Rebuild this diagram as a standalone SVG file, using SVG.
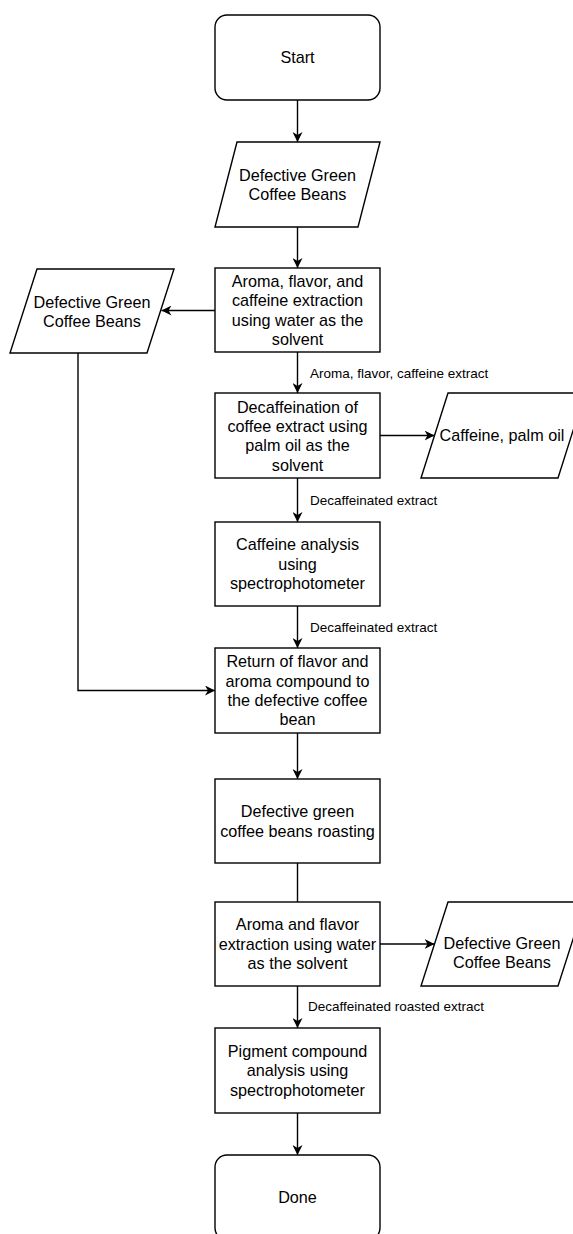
<svg xmlns="http://www.w3.org/2000/svg" width="573" height="1234" viewBox="0 0 573 1234">
<style>
.shape{fill:#ffffff;stroke:#000000;stroke-width:1.4}
.t{font-family:"Liberation Sans",Arial,sans-serif;font-size:16.2px;fill:#000000;text-anchor:middle}
.lbl{font-family:"Liberation Sans",Arial,sans-serif;font-size:13.5px;fill:#000000;text-anchor:start}
.c{fill:none;stroke:#000000;stroke-width:1.4}
.a{marker-end:url(#arr)}
</style>
<defs>
<marker id="arr" markerUnits="userSpaceOnUse" markerWidth="12" markerHeight="10" refX="10" refY="5" orient="auto">
<path d="M0,0 L10,5 L0,10 L3,5 z" fill="#000000"/>
</marker>
</defs>
<rect width="573" height="1234" fill="#ffffff"/>
<g id="connectors">
<line class="c a" x1="297.5" y1="100" x2="297.5" y2="142"/>
<line class="c a" x1="297.5" y1="227" x2="297.5" y2="268"/>
<line class="c a" x1="215" y1="310.5" x2="161.5" y2="310.5"/>
<line class="c a" x1="297.5" y1="352" x2="297.5" y2="393"/>
<line class="c a" x1="380" y1="435.5" x2="434.5" y2="435.5"/>
<line class="c a" x1="297.5" y1="478" x2="297.5" y2="522"/>
<line class="c a" x1="297.5" y1="606" x2="297.5" y2="648"/>
<polyline class="c a" points="78,353 78,690.5 215,690.5"/>
<line class="c a" x1="297.5" y1="733" x2="297.5" y2="779"/>
<line class="c" x1="297.5" y1="863" x2="297.5" y2="902"/>
<line class="c a" x1="380" y1="944" x2="434.5" y2="944"/>
<line class="c a" x1="297.5" y1="986" x2="297.5" y2="1028"/>
<line class="c a" x1="297.5" y1="1113" x2="297.5" y2="1155"/>
<text class="lbl" x="310" y="377.5">Aroma, flavor, caffeine extract</text>
<text class="lbl" x="310" y="505">Decaffeinated extract</text>
<text class="lbl" x="310" y="632">Decaffeinated extract</text>
<text class="lbl" x="308" y="1011">Decaffeinated roasted extract</text>
</g>
<g id="start">
<rect class="shape" x="215" y="15" width="165" height="85" rx="12" ry="12"/>
<text class="t" x="297.5" y="63.3">Start</text>
</g>
<g id="input1">
<polygon class="shape" points="237,142 380,142 358,227 215,227"/>
<text class="t" x="297.5" y="180.5">Defective Green</text>
<text class="t" x="297.5" y="200">Coffee Beans</text>
</g>
<g id="step1">
<rect class="shape" x="215" y="268" width="165" height="84"/>
<text class="t" x="297.5" y="287">Aroma, flavor, and</text>
<text class="t" x="297.5" y="306.4">caffeine extraction</text>
<text class="t" x="297.5" y="325.8">using water as the</text>
<text class="t" x="297.5" y="345.2">solvent</text>
</g>
<g id="output-left">
<polygon class="shape" points="37,269 174,269 147,353 10,353"/>
<text class="t" x="92" y="307.5">Defective Green</text>
<text class="t" x="92" y="327">Coffee Beans</text>
</g>
<g id="step2">
<rect class="shape" x="215" y="393" width="165" height="85"/>
<text class="t" x="297.5" y="412.5">Decaffeination of</text>
<text class="t" x="297.5" y="431.9">coffee extract using</text>
<text class="t" x="297.5" y="451.3">palm oil as the</text>
<text class="t" x="297.5" y="470.7">solvent</text>
</g>
<g id="output-caffeine">
<polygon class="shape" points="448,393 585,393 558,478 421,478"/>
<text class="t" x="502" y="441.3">Caffeine, palm oil</text>
</g>
<g id="step3">
<rect class="shape" x="215" y="522" width="165" height="84"/>
<text class="t" x="297.5" y="550.4">Caffeine analysis</text>
<text class="t" x="297.5" y="569.8">using</text>
<text class="t" x="297.5" y="589.2">spectrophotometer</text>
</g>
<g id="step4">
<rect class="shape" x="215" y="648" width="165" height="85"/>
<text class="t" x="297.5" y="667.2">Return of flavor and</text>
<text class="t" x="297.5" y="686.6">aroma compound to</text>
<text class="t" x="297.5" y="706">the defective coffee</text>
<text class="t" x="297.5" y="725.4">bean</text>
</g>
<g id="step5">
<rect class="shape" x="215" y="779" width="165" height="84"/>
<text class="t" x="297.5" y="817.1">Defective green</text>
<text class="t" x="297.5" y="836.5">coffee beans roasting</text>
</g>
<g id="step6">
<rect class="shape" x="215" y="902" width="165" height="84"/>
<text class="t" x="297.5" y="930.4">Aroma and flavor</text>
<text class="t" x="297.5" y="949.8">extraction using water</text>
<text class="t" x="297.5" y="969.2">as the solvent</text>
</g>
<g id="output-right">
<polygon class="shape" points="448,902 585,902 558,986 421,986"/>
<text class="t" x="502" y="948.5">Defective Green</text>
<text class="t" x="502" y="968">Coffee Beans</text>
</g>
<g id="step7">
<rect class="shape" x="215" y="1028" width="165" height="85"/>
<text class="t" x="297.5" y="1056.9">Pigment compound</text>
<text class="t" x="297.5" y="1076.3">analysis using</text>
<text class="t" x="297.5" y="1095.7">spectrophotometer</text>
</g>
<g id="done">
<rect class="shape" x="215" y="1155" width="165" height="85" rx="12" ry="12"/>
<text class="t" x="297.5" y="1203.3">Done</text>
</g>
</svg>
